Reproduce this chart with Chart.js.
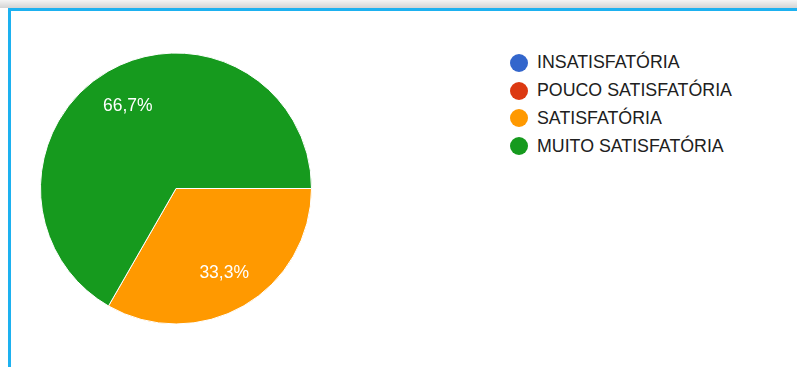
<!DOCTYPE html>
<html lang="pt-BR">
<head>
<meta charset="utf-8">
<title>Avaliação</title>
<script src="https://cdn.jsdelivr.net/npm/chart.js@4.4.1/dist/chart.umd.min.js"></script>
<style>
  html, body { margin: 0; padding: 0; width: 797px; height: 367px; overflow: hidden; background: #fff; font-family: "Liberation Sans", Arial, sans-serif; }
  .sombra { position: absolute; left: 0; top: 0; width: 797px; height: 8px; background: linear-gradient(#f4f4f4, #d4d4d4); }
  .quadro { position: absolute; left: 8px; top: 8px; width: 800px; height: 370px; box-sizing: border-box; border-top: 3px solid #1db1f0; border-left: 3px solid #1db1f0; }
  .grafico { position: absolute; left: 0; top: 0; width: 352px; height: 367px; }
  #legenda { position: absolute; left: 510px; top: 49px; margin: 0; padding: 0; list-style: none; }
  #legenda li { display: flex; align-items: center; height: 27.8px; font-size: 17.8px; color: #202020; white-space: nowrap; }
  #legenda span { display: inline-block; width: 18px; height: 18px; border-radius: 50%; margin-right: 9px; }
</style>
</head>
<body>
<div class="sombra"></div>
<div class="quadro"></div>
<div class="grafico"><canvas id="pizza"></canvas></div>
<ul id="legenda"></ul>

<script>
// Respostas (em %)
const categorias = ['INSATISFATÓRIA', 'POUCO SATISFATÓRIA', 'SATISFATÓRIA', 'MUITO SATISFATÓRIA'];
const percentuais = [0, 0, 33.3, 66.7];
const cores = ['#3366cc', '#dc3912', '#ff9900', '#169a1e'];

// Monta a legenda em HTML a partir dos itens gerados pelo Chart.js
const legendaHtml = {
    id: 'legendaHtml',
    afterUpdate(chart) {
        const ul = document.getElementById('legenda');
        ul.innerHTML = '';
        const itens = chart.options.plugins.legend.labels.generateLabels(chart);
        itens.forEach(item => {
            const li = document.createElement('li');
            const bola = document.createElement('span');
            bola.style.background = item.fillStyle;
            li.appendChild(bola);
            li.appendChild(document.createTextNode(item.text));
            ul.appendChild(li);
        });
    }
};

// Escreve o percentual dentro de cada fatia
const rotulosPct = {
    id: 'rotulosPct',
    afterDatasetsDraw(chart) {
        const ctx = chart.ctx;
        const meta = chart.getDatasetMeta(0);
        const dados = chart.data.datasets[0].data;
        ctx.save();
        ctx.fillStyle = '#fff';
        ctx.font = '17.5px "Liberation Sans", Arial, sans-serif';
        ctx.textAlign = 'center';
        ctx.textBaseline = 'middle';
        meta.data.forEach((arco, i) => {
            if (!dados[i]) return;
            const { x, y, startAngle, endAngle, outerRadius } =
                arco.getProps(['x', 'y', 'startAngle', 'endAngle', 'outerRadius'], true);
            const meio = (startAngle + endAngle) / 2;
            const r = outerRadius * 0.71;
            const texto = dados[i].toFixed(1).replace('.', ',') + '%';
            ctx.fillText(texto, x + Math.cos(meio) * r, y + Math.sin(meio) * r + 1);
        });
        ctx.restore();
    }
};

new Chart(document.getElementById('pizza'), {
    type: 'pie',
    data: {
        labels: categorias,
        datasets: [{
            data: percentuais,
            backgroundColor: cores,
            borderColor: '#ffffff',
            borderWidth: 1
        }]
    },
    options: {
        responsive: true,
        maintainAspectRatio: false,
        animation: false,
        rotation: 90,
        layout: { padding: { left: 40, right: 40, top: 52, bottom: 42 } },
        plugins: {
            legend: { display: false },
            tooltip: { enabled: false }
        }
    },
    plugins: [legendaHtml, rotulosPct]
});
</script>
</body>
</html>
